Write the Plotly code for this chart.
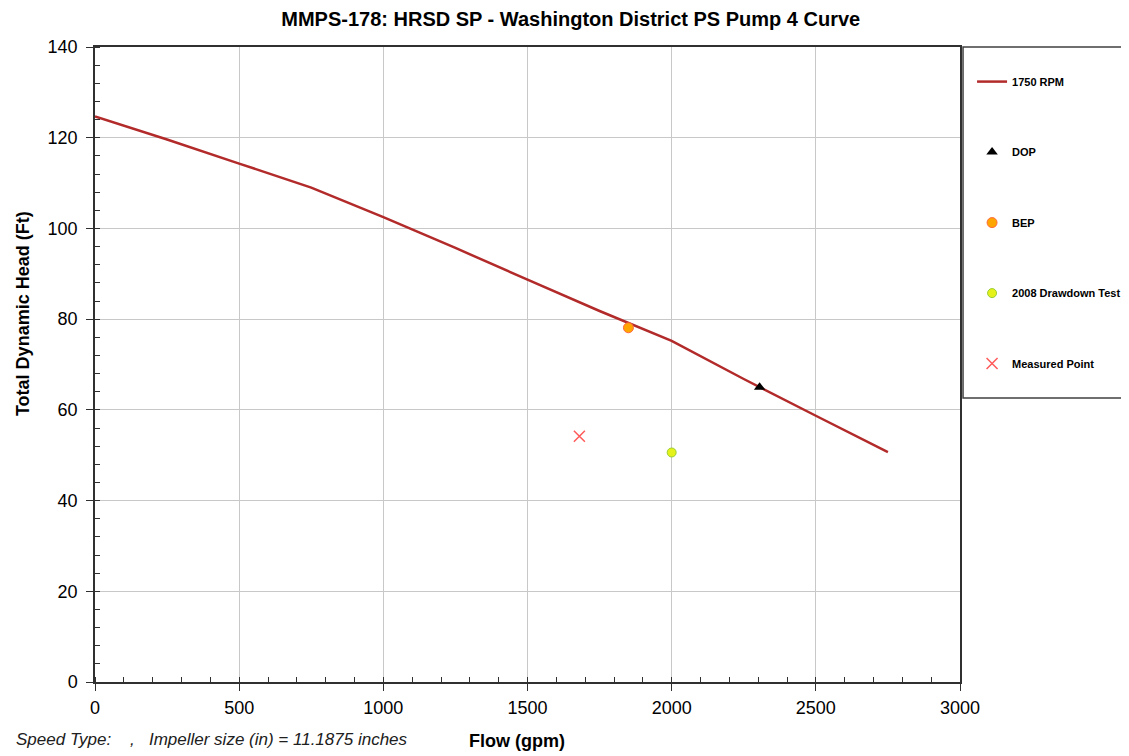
import plotly.graph_objects as go

# Pump curve at 1750 RPM
flow = [0, 250, 500, 750, 1000, 1250, 1500, 1750, 2000, 2250, 2500, 2750]
head = [124.7, 119.6, 114.3, 109.0, 102.5, 95.7, 88.7, 81.8, 75.2, 66.8, 58.7, 50.7]

# Operating points
dop_flow, dop_head = [2305], [65.0]
bep_flow, bep_head = [1850], [78.1]
test_flow, test_head = [2000], [50.6]
meas_flow, meas_head = [1680], [54.2]

fig = go.Figure()

fig.add_trace(go.Scatter(x=flow, y=head, mode='lines', name='<b>1750 RPM</b>',
                         line=dict(color='#B22A2A', width=2.5), legendgroup='a'))
fig.add_trace(go.Scatter(x=dop_flow, y=dop_head, mode='markers', name='<b>DOP</b>',
                         marker=dict(symbol='triangle-up', size=10, color='black'), legendgroup='b'))
fig.add_trace(go.Scatter(x=bep_flow, y=bep_head, mode='markers', name='<b>BEP</b>',
                         marker=dict(symbol='circle', size=10, color='#FFA500',
                                     line=dict(color='#FF6A3D', width=1)), legendgroup='c'))
fig.add_trace(go.Scatter(x=test_flow, y=test_head, mode='markers', name='<b>2008 Drawdown Test</b>',
                         marker=dict(symbol='circle', size=9, color='#E5F21A',
                                     line=dict(color='#9ACD32', width=1)), legendgroup='d'))
fig.add_trace(go.Scatter(x=meas_flow, y=meas_head, mode='markers', name='<b>Measured Point</b>',
                         marker=dict(symbol='x-thin', size=11, color='#FF5A5A',
                                     line=dict(color='#FF5A5A', width=1.5)), legendgroup='e'))

# page has an 8px body margin, so the figure is 8px smaller than the window
fig.update_layout(
    width=1121, height=748,
    margin=dict(l=87, r=169, t=39, b=74, autoexpand=False),
    plot_bgcolor='white', paper_bgcolor='white',
    font=dict(family='Arial, Liberation Sans', color='black'),
    title=dict(text='<b>MMPS-178: HRSD SP - Washington District PS Pump 4 Curve</b>',
               xref='paper', x=0.55, xanchor='center', y=0.985, yanchor='middle',
               font=dict(size=20, family='Arial, Liberation Sans')),
    xaxis=dict(range=[0, 3000], dtick=500, gridcolor='#C8C8C8', gridwidth=1,
               showline=True, linecolor='#303030', linewidth=1.5, mirror=True,
               ticks='outside', ticklen=7, tickcolor='#303030', ticklabelstandoff=2,
               tickfont=dict(size=18), zeroline=False, automargin=False,
               minor=dict(ticks='inside', dtick=100, ticklen=5, tickcolor='#303030', showgrid=False)),
    yaxis=dict(range=[0, 140], dtick=20, gridcolor='#C8C8C8', gridwidth=1,
               showline=True, linecolor='#303030', linewidth=1.5, mirror=True,
               ticks='outside', ticklen=7, tickcolor='#303030', ticklabelstandoff=5,
               tickfont=dict(size=18), zeroline=False, automargin=False,
               minor=dict(ticks='inside', dtick=4, ticklen=5, tickcolor='#303030', showgrid=False)),
    legend=dict(xref='container', yref='container', x=0.86, xanchor='left', y=0.921, yanchor='top',
                bgcolor='rgba(0,0,0,0)', borderwidth=0,
                font=dict(size=11, family='Arial, Liberation Sans'),
                tracegroupgap=51.5, itemwidth=30),
    showlegend=True,
)

# Legend frame
fig.add_shape(type='rect', xref='paper', yref='paper',
              x0=1.0035, x1=1.2, y0=(682 - 398) / 635, y1=1.0,
              line=dict(color='#404040', width=1.5))

# Axis titles
fig.add_annotation(text='<b>Flow (gpm)</b>', xref='paper', yref='paper', x=0.488, y=-0.093,
                   xanchor='center', yanchor='middle', showarrow=False, font=dict(size=18))
fig.add_annotation(text='<b>Total Dynamic Head (Ft)</b>', xref='paper', yref='paper',
                   x=-0.084, y=0.58, textangle=-90, xanchor='center', yanchor='middle',
                   showarrow=False, font=dict(size=18))

fig.add_annotation(text='<i>Speed Type:    ,   Impeller size (in) = 11.1875 inches</i>',
                   xref='paper', yref='paper', x=-0.0936, y=-0.0913,
                   xanchor='left', yanchor='middle', showarrow=False,
                   font=dict(size=17, color='#202020'))

fig.write_html('out.html')
